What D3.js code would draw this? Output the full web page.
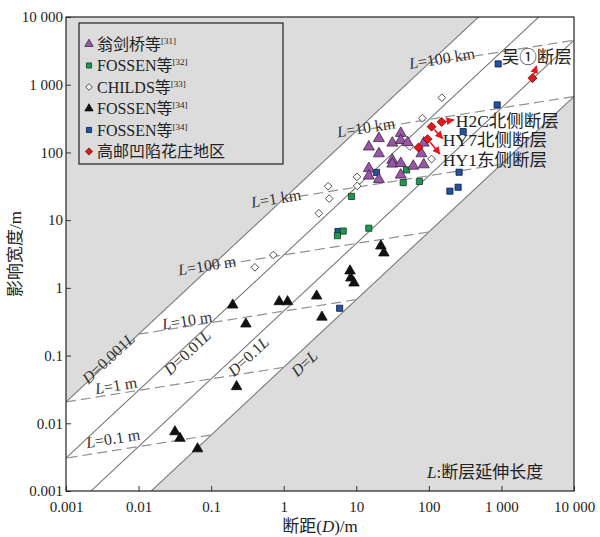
<!DOCTYPE html>
<html>
<head>
<meta charset="utf-8">
<script src="https://cdn.jsdelivr.net/npm/d3@7"></script>
<style>
  body { margin: 0; background: #fff; }
  text { font-family: "Liberation Serif", "Noto Sans CJK SC", serif; fill: #222; }
</style>
</head>
<body>
<div id="chart"></div>
<script>
// Axis ticks
var tickValues = [0.001, 0.01, 0.1, 1, 10, 100, 1000, 10000];
var tickLabels = ["0.001", "0.01", "0.1", "1", "10", "100", "1 000", "10 000"];

// Reference lines: D = kL, width/throw ratio along each line
var diagNames = ["0.001", "0.01", "0.1", ""];
var diagRatio = [20.7, 3.06, 0.453, 0.067];
var diagLabelD = [0.00379, 0.0465, 0.321, 1.90];
var diagLabelW = [0.0923, 0.113, 0.0986, 0.0778];

// Constant fault length lines (m)
var lenValues = [0.1, 1, 10, 100, 1000, 10000, 100000];
var lenNames = ["0.1 m", "1 m", "10 m", "100 m", "1 km", "10 km", "100 km"];
var lenLabelD = [0.00444, 0.00489, 0.0465, 0.0875, 0.78, 13.6, 151];
var lenLabelW = [0.00607, 0.0369, 0.336, 2.18, 21.3, 238, 2490];

// Data series (D = throw, W = width), in m
var wengD = [41, 20.5, 31.4, 41, 51, 14.9, 20.5, 85, 79, 31.4, 31.4, 41, 61, 85, 14.9, 14.9, 20.5, 41];
var wengW = [192, 161, 138, 151, 140, 121, 96, 138, 96, 77, 67.6, 69, 63, 66, 58, 45, 40, 46.5];

var fossen32D = [49.3, 44.3, 74, 8.6, 14.9, 6.6, 5.5];
var fossen32W = [55.2, 35.8, 37.3, 22.4, 7.6, 6.9, 5.9];

var childsD = [151, 81.4, 54.7, 109, 10.2, 10.3, 4.1, 4.24, 3.05, 0.72, 0.40];
var childsW = [643, 320, 122, 80, 43.5, 32, 31.7, 20.8, 12.6, 3.06, 2.01];

var fossen34aD = [0.198, 0.301, 0.867, 1.13, 2.84, 3.36, 8.2, 8.4, 9.3, 21.8, 24, 0.224, 0.0317, 0.0372, 0.065];
var fossen34aW = [0.558, 0.293, 0.625, 0.625, 0.758, 0.37, 1.78, 1.40, 1.18, 4.16, 3.28, 0.0348, 0.0075, 0.0060, 0.0042];

var fossen34bD = [901, 873, 297, 19, 261, 253, 195, 5.6, 5.9];
var fossen34bW = [2028, 503, 203, 50.7, 51, 30.6, 26.8, 6.8, 0.50];

var gaoyouD = [150, 109, 96, 72, 2680];
var gaoyouW = [282, 240, 157, 118, 1248];

// Annotations for named faults
var annoNames = ["吴①断层", "H2C北侧断层", "HY7北侧断层", "HY1东侧断层"];
var annoPoint = [4, 0, 1, 2];           // which 高邮 point the arrow leaves from
var annoArrowD = [3043, 221, 154.5, 141.8];
var annoArrowW = [1896, 302, 161, 95];
var annoTextD = [1013, 235, 156, 156];
var annoTextW = [2099, 238, 124.8, 63.2];

var width = 600, height = 537;
var margin = { top: 17, right: 26, bottom: 46, left: 66 };

var x = d3.scaleLog().domain([0.001, 10000]).range([margin.left, width - margin.right]);
var y = d3.scaleLog().domain([0.001, 10000]).range([height - margin.bottom, margin.top]);

var svg = d3.select("#chart").append("svg")
  .attr("width", width)
  .attr("height", height);

var defs = svg.append("defs");
defs.append("clipPath").attr("id", "plotClip")
  .append("rect")
  .attr("x", x.range()[0]).attr("y", y.range()[1])
  .attr("width", x.range()[1] - x.range()[0])
  .attr("height", y.range()[0] - y.range()[1]);

defs.append("marker")
  .attr("id", "redArrow")
  .attr("viewBox", "0 0 10 10")
  .attr("refX", 9).attr("refY", 5)
  .attr("markerWidth", 5).attr("markerHeight", 5)
  .attr("orient", "auto")
  .append("path")
  .attr("d", "M0,0L10,5L0,10z")
  .attr("fill", "#e8161b");

var plot = svg.append("g").attr("clip-path", "url(#plotClip)");

// Gray background and white band between D=0.001L and D=L
plot.append("rect")
  .attr("x", x.range()[0]).attr("y", y.range()[1])
  .attr("width", x.range()[1] - x.range()[0])
  .attr("height", y.range()[0] - y.range()[1])
  .attr("fill", "#dcdcdc");

var farD = [1e-6, 1e6];
var band = [
  [farD[0], diagRatio[0] * farD[0]],
  [farD[1], diagRatio[0] * farD[1]],
  [farD[1], diagRatio[3] * farD[1]],
  [farD[0], diagRatio[3] * farD[0]]
];
plot.append("path")
  .attr("d", "M" + band.map(p => x(p[0]) + "," + y(p[1])).join("L") + "Z")
  .attr("fill", "#fff");

var line = d3.line().x(d => x(d[0])).y(d => y(d[1]));

// Diagonal lines D = kL
diagRatio.forEach(function (r) {
  plot.append("path")
    .attr("d", line([[farD[0], r * farD[0]], [farD[1], r * farD[1]]]))
    .attr("fill", "none")
    .attr("stroke", "#7a7a7a")
    .attr("stroke-width", 1.1);
});

// Dashed lines for constant L
lenValues.forEach(function (L) {
  var start = [0.001 * L, diagRatio[0] * 0.001 * L];
  var end = [L, diagRatio[3] * L];
  plot.append("path")
    .attr("d", line([start, end]))
    .attr("fill", "none")
    .attr("stroke", "#909090")
    .attr("stroke-width", 1.2)
    .attr("stroke-dasharray", "10,5");
});

// Line labels
lenNames.forEach(function (name, i) {
  var t = plot.append("text")
    .attr("transform", "translate(" + x(lenLabelD[i]) + "," + y(lenLabelW[i]) + ") rotate(-9)")
    .attr("text-anchor", "middle")
    .attr("dominant-baseline", "central")
    .style("font-size", "16px")
    .style("fill", "#333");
  t.append("tspan").style("font-style", "italic").text("L");
  t.append("tspan").text("=" + name);
});

diagNames.forEach(function (name, i) {
  var t = plot.append("text")
    .attr("transform", "translate(" + x(diagLabelD[i]) + "," + y(diagLabelW[i]) + ") rotate(-43)")
    .attr("text-anchor", "middle")
    .attr("dominant-baseline", "central")
    .style("font-size", "16px")
    .style("fill", "#333");
  t.append("tspan").style("font-style", "italic").text("D");
  t.append("tspan").text("=" + name);
  t.append("tspan").style("font-style", "italic").text("L");
});

// Markers
function drawSeries(ds, ws, shape, size, fill, stroke, rot) {
  var sym = d3.symbol().type(shape).size(size);
  plot.append("g").selectAll("path")
    .data(ds.map((d, i) => [d, ws[i]]))
    .join("path")
    .attr("transform", d => "translate(" + x(d[0]) + "," + y(d[1]) + ")" + (rot ? " rotate(45)" : ""))
    .attr("d", sym)
    .attr("fill", fill)
    .attr("stroke", stroke)
    .attr("stroke-width", 0.8);
}

drawSeries(fossen34aD, fossen34aW, d3.symbolTriangle, 48, "#111", "#111", false);
drawSeries(childsD, childsW, d3.symbolSquare, 30, "#fff", "#333", true);
drawSeries(fossen34bD, fossen34bW, d3.symbolSquare, 38, "#2352a3", "#10203c", false);
drawSeries(fossen32D, fossen32W, d3.symbolSquare, 38, "#1a9a50", "#163a20", false);
drawSeries(wengD, wengW, d3.symbolTriangle, 52, "#9a56a6", "#3a2540", false);

// Arrows from the 高邮 points
annoNames.forEach(function (name, i) {
  var p = annoPoint[i];
  var x0 = x(gaoyouD[p]), y0 = y(gaoyouW[p]);
  var x1 = x(annoArrowD[i]), y1 = y(annoArrowW[i]);
  var len = Math.hypot(x1 - x0, y1 - y0);
  var sx = x0 + (x1 - x0) * 4 / len, sy = y0 + (y1 - y0) * 4 / len;
  plot.append("line")
    .attr("x1", sx).attr("y1", sy).attr("x2", x1).attr("y2", y1)
    .attr("stroke", "#e8161b")
    .attr("stroke-width", 1.6)
    .attr("marker-end", "url(#redArrow)");
});

drawSeries(gaoyouD, gaoyouW, d3.symbolSquare, 40, "#e8161b", "#6b1010", true);

annoNames.forEach(function (name, i) {
  svg.append("text")
    .attr("x", x(annoTextD[i]))
    .attr("y", y(annoTextW[i]))
    .style("font-size", "17.5px")
    .style("fill", "#222")
    .text(name);
});

// Note on L
var note = plot.append("text")
  .attr("x", x(0.001) + 361)
  .attr("y", y(0.001) - 13)
  .style("font-size", "17px");
note.append("tspan").style("font-style", "italic").text("L");
note.append("tspan").text(":断层延伸长度");

// Axes
var xAxis = svg.append("g")
  .attr("transform", "translate(0," + y.range()[0] + ")")
  .call(d3.axisBottom(x).tickValues(tickValues)
    .tickFormat((d, i) => tickLabels[i])
    .tickSizeInner(-5).tickSizeOuter(0).tickPadding(10));

var yAxis = svg.append("g")
  .attr("transform", "translate(" + x.range()[0] + ",0)")
  .call(d3.axisLeft(y).tickValues(tickValues)
    .tickFormat((d, i) => tickLabels[i])
    .tickSizeInner(-5).tickSizeOuter(0).tickPadding(3));

[xAxis, yAxis].forEach(function (a) {
  a.select(".domain").remove();
  a.selectAll("line").attr("stroke", "#333");
  a.selectAll("text")
    .style("font-size", "15px")
    .style("font-family", "'Liberation Serif', serif")
    .attr("fill", "#222");
});

// Frame
svg.append("rect")
  .attr("x", x.range()[0]).attr("y", y.range()[1])
  .attr("width", x.range()[1] - x.range()[0])
  .attr("height", y.range()[0] - y.range()[1])
  .attr("fill", "none")
  .attr("stroke", "#222")
  .attr("stroke-width", 1.2);

// Axis titles
var xTitle = svg.append("text")
  .attr("x", (x.range()[0] + x.range()[1]) / 2)
  .attr("y", 532)
  .attr("text-anchor", "middle")
  .style("font-size", "17px");
xTitle.append("tspan").text("断距(");
xTitle.append("tspan").style("font-style", "italic").text("D");
xTitle.append("tspan").text(")/m");

svg.append("text")
  .attr("transform", "translate(21,254) rotate(-90)")
  .attr("text-anchor", "middle")
  .style("font-size", "17px")
  .text("影响宽度/m");

// Legend
var legendNames = ["翁剑桥等", "FOSSEN等", "CHILDS等", "FOSSEN等", "FOSSEN等", "高邮凹陷花庄地区"];
var legendRefs = ["[31]", "[32]", "[33]", "[34]", "[34]", ""];
var legendShapes = [d3.symbolTriangle, d3.symbolSquare, d3.symbolSquare, d3.symbolTriangle, d3.symbolSquare, d3.symbolSquare];
var legendSizes = [30, 26, 22, 30, 26, 26];
var legendFill = ["#9a56a6", "#1a9a50", "#fff", "#111", "#2352a3", "#e8161b"];
var legendStroke = ["#3a2540", "#163a20", "#333", "#111", "#10203c", "#6b1010"];
var legendRot = [false, false, true, false, false, true];

var legend = svg.append("g");
legend.append("rect")
  .attr("x", 79).attr("y", 23)
  .attr("width", 204).attr("height", 141)
  .attr("fill", "#dcdcdc")
  .attr("stroke", "#222")
  .attr("stroke-width", 1.2);

legendNames.forEach(function (name, i) {
  var ly = 44 + i * 21.5;
  legend.append("path")
    .attr("transform", "translate(89," + ly + ")" + (legendRot[i] ? " rotate(45)" : ""))
    .attr("d", d3.symbol().type(legendShapes[i]).size(legendSizes[i]))
    .attr("fill", legendFill[i])
    .attr("stroke", legendStroke[i])
    .attr("stroke-width", 0.8);
  var t = legend.append("text")
    .attr("x", 97).attr("y", ly + 5.5)
    .style("font-size", "16px");
  t.append("tspan").text(name);
  if (legendRefs[i]) {
    t.append("tspan").attr("dy", -6).style("font-size", "9px").text(legendRefs[i]);
  }
});
</script>
</body>
</html>
